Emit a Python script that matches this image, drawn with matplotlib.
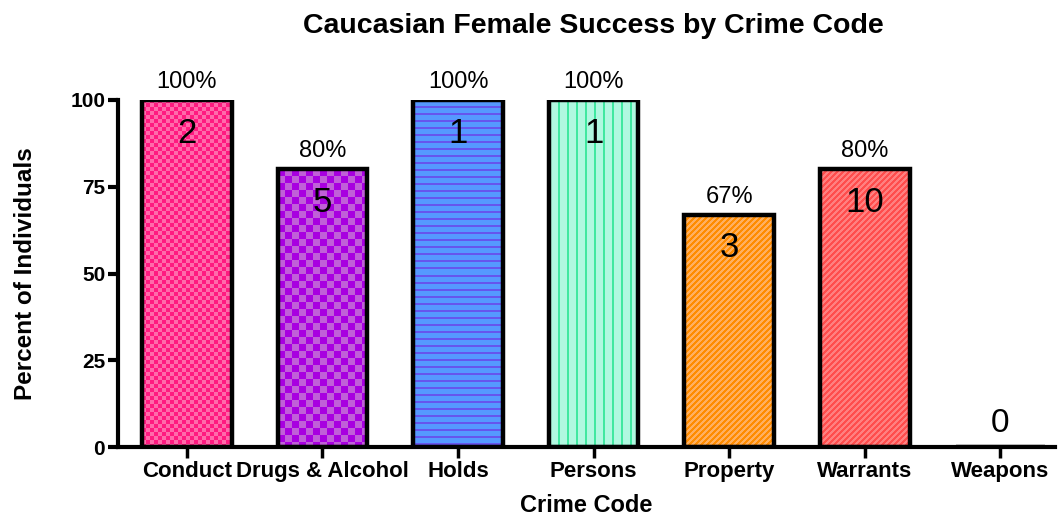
import numpy as np
import matplotlib
matplotlib.use("Agg")
import matplotlib.pyplot as plt
from matplotlib.colors import to_rgb

categories = ["Conduct", "Drugs & Alcohol", "Holds", "Persons", "Property", "Warrants", "Weapons"]
percent = [100, 80, 100, 100, 67, 80, 0]
counts = [2, 5, 1, 1, 3, 10, 0]
pct_labels = ["100%", "80%", "100%", "100%", "67%", "80%", ""]

# (pattern kind, base colour, pattern colour)
styles = [
    ("checker4", "#FF1A80", "#FF6AAA"),
    ("checker7", "#A800E0", "#C060D8"),
    ("hlines", "#5599FF", "#6655EE"),
    ("vlines", "#B0F8E0", "#40E8A0"),
    ("diag", "#FFB060", "#FF8C00"),
    ("diag", "#FF8080", "#FF4D4D"),
    ("none", "#FFFFFF", "#FFFFFF"),
]

plt.rcParams['font.family'] = ['Liberation Sans', 'DejaVu Sans']

fig = plt.figure(figsize=(10.6, 5.18), dpi=100)
ax = fig.add_axes([0.111, 0.137, 0.884, 0.670])
x = np.arange(len(categories))
width = 0.66
ax.set_xlim(-0.51, 6.4)
ax.set_ylim(0, 100)


def texture(kind, h, w, c1, c2):
    i, j = np.mgrid[0:h, 0:w]
    if kind == "checker4":
        m = ((i // 4) + (j // 4)) % 2 == 1
    elif kind == "checker7":
        m = ((i // 7) + (j // 7)) % 2 == 1
    elif kind == "hlines":
        m = (i % 7) < 2
    elif kind == "vlines":
        m = (j % 9) < 2
    elif kind == "diag":
        m = ((i + j) % 6) < 3
    else:
        m = np.zeros((h, w), bool)
    img = np.empty((h, w, 3))
    img[:] = to_rgb(c1)
    img[m] = to_rgb(c2)
    return img

bars = ax.bar(x, percent, width=width, facecolor="none", edgecolor="black",
              linewidth=3.2, zorder=3)
fig.canvas.draw()
for b, (kind, c1, c2), v in zip(bars, styles, percent):
    if v <= 0:
        continue
    x0, y0 = b.get_x(), b.get_y()
    x1, y1 = x0 + b.get_width(), y0 + b.get_height()
    p0 = ax.transData.transform((x0, y0))
    p1 = ax.transData.transform((x1, y1))
    w = max(int(round(p1[0] - p0[0])), 1)
    h = max(int(round(p1[1] - p0[1])), 1)
    img = texture(kind, h, w, c1, c2)
    im = ax.imshow(img, extent=(x0, x1, y0, y1), origin="upper",
                   interpolation="nearest", aspect="auto", zorder=2)
    im.set_clip_path(b)
ax.set_xlim(-0.51, 6.4)
ax.set_ylim(0, 100)

for xi, v, c, pl in zip(x, percent, counts, pct_labels):
    if pl:
        ax.annotate(pl, (xi, v), xytext=(0, 5), textcoords="offset points",
                    ha="center", va="bottom", fontsize=17, zorder=5)
    if v > 0:
        ax.annotate(str(c), (xi, v), xytext=(0, -12), textcoords="offset points",
                    ha="center", va="top", fontsize=25, zorder=5)
    else:
        ax.annotate(str(c), (xi, v), xytext=(0, 6), textcoords="offset points",
                    ha="center", va="bottom", fontsize=24, zorder=5)

for s in ["top", "right"]:
    ax.spines[s].set_visible(False)
ax.spines["left"].set_linewidth(3)
ax.spines["bottom"].set_linewidth(3)
ax.set_yticks([0, 25, 50, 75, 100])
ax.set_xticks(x)
ax.set_xticklabels(categories)
ax.tick_params(axis="y", length=7, width=3, labelsize=15, pad=2)
ax.tick_params(axis="x", length=8, width=2.5, labelsize=16, pad=2)
for lab in ax.get_xticklabels() + ax.get_yticklabels():
    lab.set_fontweight("bold")
ax.set_xlabel("Crime Code", fontsize=17, fontweight="bold", labelpad=9)
ax.set_ylabel("Percent of Individuals", fontsize=17.5, fontweight="bold", labelpad=24)
fig.suptitle("Caucasian Female Success by Crime Code", fontsize=20.5, fontweight="bold",
             x=0.56, y=0.975)
fig.savefig("out.png", dpi=100)
